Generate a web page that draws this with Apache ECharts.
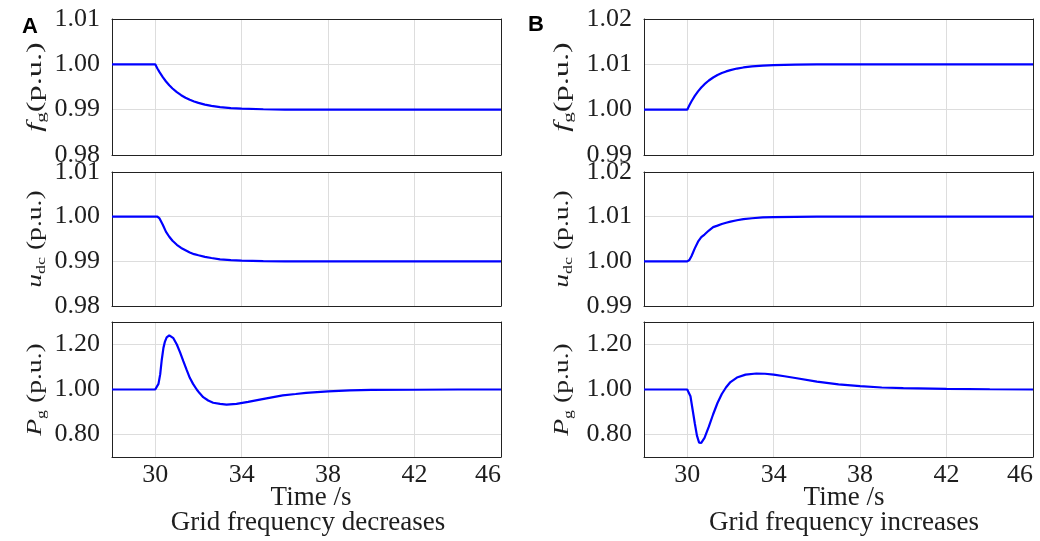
<!DOCTYPE html>
<html><head><meta charset="utf-8">
<script src="https://cdn.jsdelivr.net/npm/echarts@6/dist/echarts.min.js"></script>
<style>html,body{margin:0;padding:0;background:#fff}#c{width:1040px;height:541px}</style>
</head><body><div id="c"></div>
<script>
// ---- data ----
const xTicks = [30, 34, 38, 42, 46];
const yTicksA = [0.98, 0.99, 1.00, 1.01];
const yTicksB = [0.99, 1.00, 1.01, 1.02];
const yTicksP = [0.80, 1.00, 1.20];

const tFU = [28, 30, 30.1, 30.2, 30.35, 30.5, 30.65, 30.8, 31, 31.2, 31.4, 31.6, 31.8, 32, 32.3, 32.6, 33, 33.5, 34, 35, 36, 38, 40, 42, 44, 46];
const fgA = [1.0, 1.0, 0.99909, 0.99827, 0.99717, 0.99621, 0.99538, 0.99467, 0.99386, 0.99319, 0.99264, 0.99218, 0.9918, 0.99149, 0.99112, 0.99084, 0.99057, 0.99036, 0.99022, 0.99009, 0.99003, 0.99, 0.99, 0.99, 0.99, 0.99];
const udcA = [1.0, 1.0, 0.99999, 0.9996, 0.9982, 0.9966, 0.9955, 0.9946, 0.9937, 0.993, 0.9925, 0.992, 0.9916, 0.99135, 0.991, 0.99075, 0.99045, 0.99025, 0.99015, 0.99004, 0.99001, 0.99, 0.99, 0.99, 0.99, 0.99];
const fgB = [1.0, 1.0, 1.00098, 1.00186, 1.00303, 1.00403, 1.00488, 1.00562, 1.00643, 1.0071, 1.00764, 1.00808, 1.00844, 1.00873, 1.00907, 1.00931, 1.00955, 1.00973, 1.00984, 1.00994, 1.00998, 1.01, 1.01, 1.01, 1.01, 1.01];
const udcB = [1.0, 1.0, 1.0003, 1.0012, 1.0029, 1.0044, 1.0054, 1.006, 1.0069, 1.00766, 1.008, 1.00835, 1.00865, 1.0089, 1.0092, 1.00945, 1.00965, 1.00982, 1.0099, 1.00997, 1.00999, 1.01, 1.01, 1.01, 1.01, 1.01];

const tPA = [28, 30, 30.05, 30.15, 30.23, 30.3, 30.38, 30.45, 30.53, 30.6, 30.65, 30.72, 30.84, 31.0, 31.15, 31.3, 31.45, 31.6, 31.75, 31.92, 32.05, 32.22, 32.45, 32.68, 33.0, 33.3, 33.76, 34.3, 34.84, 35.4, 35.9, 36.5, 36.98, 38, 39, 40, 42, 44, 46];
const pgA = [1.0, 1.0, 1.0, 1.025, 1.067, 1.13, 1.185, 1.213, 1.232, 1.24, 1.241, 1.238, 1.228, 1.2, 1.165, 1.126, 1.088, 1.052, 1.025, 1.0, 0.984, 0.966, 0.951, 0.941, 0.936, 0.933, 0.936, 0.945, 0.955, 0.965, 0.974, 0.98, 0.985, 0.992, 0.996, 0.998, 0.999, 1.0, 1.0];
const tPB = [28, 30, 30.05, 30.15, 30.25, 30.35, 30.45, 30.55, 30.65, 30.8, 31.0, 31.2, 31.4, 31.6, 31.8, 32.0, 32.3, 32.7, 33.2, 33.6, 34.0, 34.5, 35, 36, 37, 38, 39, 40, 42, 44, 46];
const pgB = [1.0, 1.0, 1.0, 0.97, 0.91, 0.85, 0.795, 0.764, 0.763, 0.785, 0.835, 0.89, 0.94, 0.98, 1.01, 1.033, 1.053, 1.066, 1.071, 1.07, 1.066, 1.059, 1.051, 1.035, 1.023, 1.015, 1.009, 1.006, 1.003, 1.001, 1.0];

const yNames = ['{i|f}{s|g}{n|(p.u.)}', '{i|u}{s|dc}{n| (p.u.)}', '{i|P}{s|g}{n| (p.u.)}'];
const panelLetters = ['A', 'B'];
const xName = 'Time /s';
const captions = ['Grid frequency decreases', 'Grid frequency increases'];

const SERIF = '"Liberation Serif","Times New Roman",serif';
const TXT = '#1e1e1e';
const FRAME = {show: true, lineStyle: {color: '#222', width: 1}};

const zip = (t, v) => t.map((x, i) => [x, v[i]]);

const colLeft = [112, 644];
const plotW = 389;
const rows = [{top: 19, h: 136}, {top: 172, h: 134}, {top: 322, h: 135}];
const nameX = [36, 563];
const nameScale = [1.62, 1.38, 1.38];

const grids = [], xAxes = [], yAxes = [], series = [], graphics = [];
const nameRich = {
  i: {fontFamily: SERIF, fontStyle: 'italic', fontSize: 20, fill: TXT, lineHeight: 24, verticalAlign: 'middle'},
  n: {fontFamily: SERIF, fontSize: 20, fill: TXT, lineHeight: 24, verticalAlign: 'middle'},
  s: {fontFamily: SERIF, fontSize: 13, fill: TXT, lineHeight: 12, verticalAlign: 'bottom'}
};
const panels = [
  [[tFU, fgA, yTicksA, 0.98, 1.01], [tFU, udcA, yTicksA, 0.98, 1.01], [tPA, pgA, yTicksP, 0.7, 1.3]],
  [[tFU, fgB, yTicksB, 0.99, 1.02], [tFU, udcB, yTicksB, 0.99, 1.02], [tPB, pgB, yTicksP, 0.7, 1.3]]
];

let k = 0;
for (let c = 0; c < 2; c++) {
  for (let r = 0; r < 3; r++) {
    const [t, v, yt, ymin, ymax] = panels[c][r];
    grids.push({left: colLeft[c], width: plotW, top: rows[r].top, height: rows[r].h, show: false,
      containLabel: false, outerBoundsMode: 'none'});
    // primary axes (bottom / left)
    xAxes.push({type: 'value', gridIndex: k, position: 'bottom', min: 28, max: 46,
      axisLine: FRAME, axisTick: {show: false, customValues: xTicks},
      splitLine: {show: true, lineStyle: {color: '#dddddd', width: 1}},
      axisLabel: {show: r === 2, customValues: xTicks, fontFamily: SERIF, fontSize: 26, color: TXT, margin: 5,
        alignMaxLabel: 'right'}
    });
    yAxes.push({type: 'value', gridIndex: k, position: 'left', min: ymin, max: ymax,
      axisLine: FRAME, axisTick: {show: false, customValues: yt},
      splitLine: {show: true, lineStyle: {color: '#dddddd', width: 1}},
      axisLabel: {customValues: yt, fontFamily: SERIF, fontSize: 26, color: TXT, margin: 12,
        padding: [8, 0, 0, 0], formatter: val => val.toFixed(2)}
    });
    series.push({type: 'line', xAxisIndex: 2 * k, yAxisIndex: 2 * k, data: zip(t, v), showSymbol: false,
      lineStyle: {color: '#0000ff', width: 2.2}, itemStyle: {color: '#0000ff'}, animation: false});
    // frame axes (top / right)
    xAxes.push({type: 'value', gridIndex: k, position: 'top', min: 28, max: 46,
      axisLine: FRAME, axisTick: {show: false}, splitLine: {show: false}, axisLabel: {show: false}});
    yAxes.push({type: 'value', gridIndex: k, position: 'right', min: ymin, max: ymax,
      axisLine: FRAME, axisTick: {show: false}, splitLine: {show: false}, axisLabel: {show: false}});
    graphics.push({type: 'text', x: nameX[c], y: rows[r].top + rows[r].h / 2, rotation: Math.PI / 2,
      scaleX: nameScale[r], scaleY: 1,
      style: {text: yNames[r], rich: nameRich, font: '20px ' + SERIF, fill: TXT, align: 'center', verticalAlign: 'middle'}});
    k++;
  }
}

graphics.push(
  {type: 'text', left: 22, top: 16, style: {text: panelLetters[0], font: 'bold 22px "Liberation Sans", Arial, sans-serif', fill: '#000'}},
  {type: 'text', left: 528, top: 14, style: {text: panelLetters[1], font: 'bold 22px "Liberation Sans", Arial, sans-serif', fill: '#000'}},
  {type: 'text', x: 311, y: 498, style: {text: xName, font: '27px ' + SERIF, fill: TXT, align: 'center', verticalAlign: 'middle'}},
  {type: 'text', x: 844, y: 498, style: {text: xName, font: '27px ' + SERIF, fill: TXT, align: 'center', verticalAlign: 'middle'}},
  {type: 'text', x: 308, y: 523, style: {text: captions[0], font: '27px ' + SERIF, fill: TXT, align: 'center', verticalAlign: 'middle'}},
  {type: 'text', x: 844, y: 523, style: {text: captions[1], font: '27px ' + SERIF, fill: TXT, align: 'center', verticalAlign: 'middle'}}
);

const chart = echarts.init(document.getElementById('c'), null, {renderer: 'canvas'});
chart.setOption({
  animation: false,
  grid: grids, xAxis: xAxes, yAxis: yAxes, series: series,
  graphic: graphics
});
</script></body></html>
